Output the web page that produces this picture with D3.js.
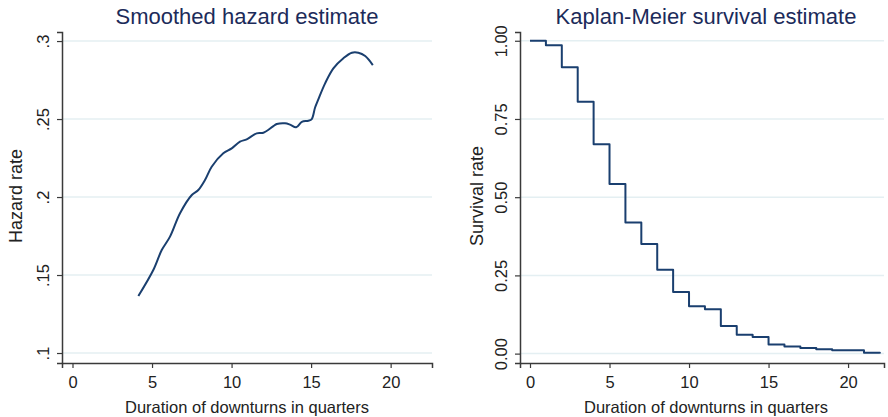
<!DOCTYPE html>
<html>
<head>
<meta charset="utf-8">
<script src="https://cdn.jsdelivr.net/npm/d3@7"></script>
<style>
  body { margin: 0; background: #fff; }
  svg { font-family: "Liberation Sans", Arial, sans-serif; }
</style>
</head>
<body>
<script>
const width = 888;
const height = 417;

// smoothed hazard
const hazardX = [4.14, 5.08, 5.61, 6.13, 6.76, 7.5, 7.91, 8.33, 8.75, 9.48, 10.01, 10.53, 10.95, 11.58, 12.0, 12.63, 12.84, 13.36, 13.68, 14.06, 14.42, 14.83, 15.04, 15.25, 15.46, 15.88, 16.4, 17.03, 17.56, 17.97, 18.4, 18.88];
const hazardY = [0.1365, 0.1532, 0.166, 0.1746, 0.1896, 0.2013, 0.2045, 0.2109, 0.2194, 0.228, 0.2312, 0.2355, 0.237, 0.2408, 0.2412, 0.2455, 0.2468, 0.2473, 0.2464, 0.2447, 0.2482, 0.2489, 0.25, 0.2574, 0.2628, 0.2729, 0.2825, 0.289, 0.2925, 0.2925, 0.2904, 0.2846];

// Kaplan-Meier steps: survival from each time on
const kmTime = [0, 1, 2, 3, 4, 5, 6, 7, 8, 9, 10, 11, 12, 13, 14, 15, 16, 17, 18, 19, 21, 22];
const kmSurv = [1.00, 0.986, 0.915, 0.805, 0.669, 0.542, 0.419, 0.350, 0.268, 0.197, 0.151, 0.142, 0.088, 0.060, 0.053, 0.029, 0.023, 0.018, 0.014, 0.011, 0.003, 0.0];

const xTicks = [0, 5, 10, 15, 20];
const hazardTicks = [0.1, 0.15, 0.2, 0.25, 0.3];
const hazardTickLabels = [".1", ".15", ".2", ".25", ".3"];
const survTicks = [0, 0.25, 0.5, 0.75, 1];
const survTickLabels = ["0.00", "0.25", "0.50", "0.75", "1.00"];

const lineColor = "#1a3f6f";
const titleColor = "#1c2b5a";
const axisColor = "#3a3a3a";
const gridColor = "#e4eff2";

const svg = d3.select("body").append("svg")
  .attr("width", width)
  .attr("height", height);

function panel(opt) {
  const g = svg.append("g");
  const x = d3.scaleLinear().domain(opt.xDomain).range([opt.left, opt.right]);
  const y = d3.scaleLinear().domain(opt.yDomain).range([opt.bottom, opt.top]);

  // grid
  g.selectAll(".grid")
    .data(opt.yTicks)
    .enter().append("line")
    .attr("x1", opt.left).attr("x2", opt.right)
    .attr("y1", d => y(d)).attr("y2", d => y(d))
    .attr("stroke", gridColor).attr("stroke-width", 1.5);

  // axes
  const xAxis = g.append("g")
    .attr("transform", `translate(0,${opt.bottom})`)
    .call(d3.axisBottom(x).tickValues(xTicks).tickSizeOuter(0).tickSize(5).tickPadding(6));
  const yAxis = g.append("g")
    .attr("transform", `translate(${opt.left},0)`)
    .call(d3.axisLeft(y).tickValues(opt.yTicks).tickSizeOuter(0).tickSize(5)
      .tickFormat((d, i) => opt.yTickLabels[i]));

  [xAxis, yAxis].forEach(a => {
    a.select(".domain").attr("stroke", axisColor).attr("stroke-width", 1.5);
    a.selectAll(".tick line").attr("stroke", axisColor).attr("stroke-width", 1.2);
    a.selectAll("text").attr("fill", "#222").style("font-size", "16.5px");
  });
  xAxis.selectAll("text").attr("dy", "0.85em");
  yAxis.selectAll("text")
    .attr("x", null)
    .attr("text-anchor", "middle")
    .attr("transform", "translate(-19,0) rotate(-90)")
    .attr("y", 0).attr("dy", "0.35em");

  // data
  g.append("path")
    .datum(opt.data)
    .attr("fill", "none")
    .attr("stroke", lineColor)
    .attr("stroke-width", 2)
    .attr("stroke-linejoin", "round")
    .attr("d", d3.line().curve(opt.curve).x(d => x(d[0])).y(d => y(d[1])));

  // texts
  g.append("text")
    .attr("x", opt.titleX).attr("y", 24)
    .attr("text-anchor", "middle")
    .attr("fill", titleColor)
    .style("font-size", "22px")
    .text(opt.title);
  g.append("text")
    .attr("x", opt.titleX).attr("y", 413)
    .attr("text-anchor", "middle")
    .attr("fill", "#222")
    .style("font-size", "16.5px")
    .text("Duration of downturns in quarters");
  g.append("text")
    .attr("transform", `translate(${opt.yLabelX},196) rotate(-90)`)
    .attr("text-anchor", "middle")
    .attr("dy", "0.35em")
    .attr("fill", "#222")
    .style("font-size", "18px")
    .text(opt.yLabel);
}

panel({
  left: 62, right: 432, top: 32, bottom: 363,
  xDomain: [-0.66, 22.6], yDomain: [0.0936, 0.3058],
  yTicks: hazardTicks, yTickLabels: hazardTickLabels,
  data: hazardX.map((v, i) => [v, hazardY[i]]),
  curve: d3.curveCatmullRom,
  title: "Smoothed hazard estimate", titleX: 247,
  yLabel: "Hazard rate", yLabelX: 16
});

panel({
  left: 520, right: 884, top: 32, bottom: 363,
  xDomain: [-0.629, 22.26], yDomain: [-0.030, 1.028],
  yTicks: survTicks, yTickLabels: survTickLabels,
  data: kmTime.map((v, i) => [v, kmSurv[i]]),
  curve: d3.curveStepAfter,
  title: "Kaplan-Meier survival estimate", titleX: 706,
  yLabel: "Survival rate", yLabelX: 477
});
</script>
</body>
</html>
